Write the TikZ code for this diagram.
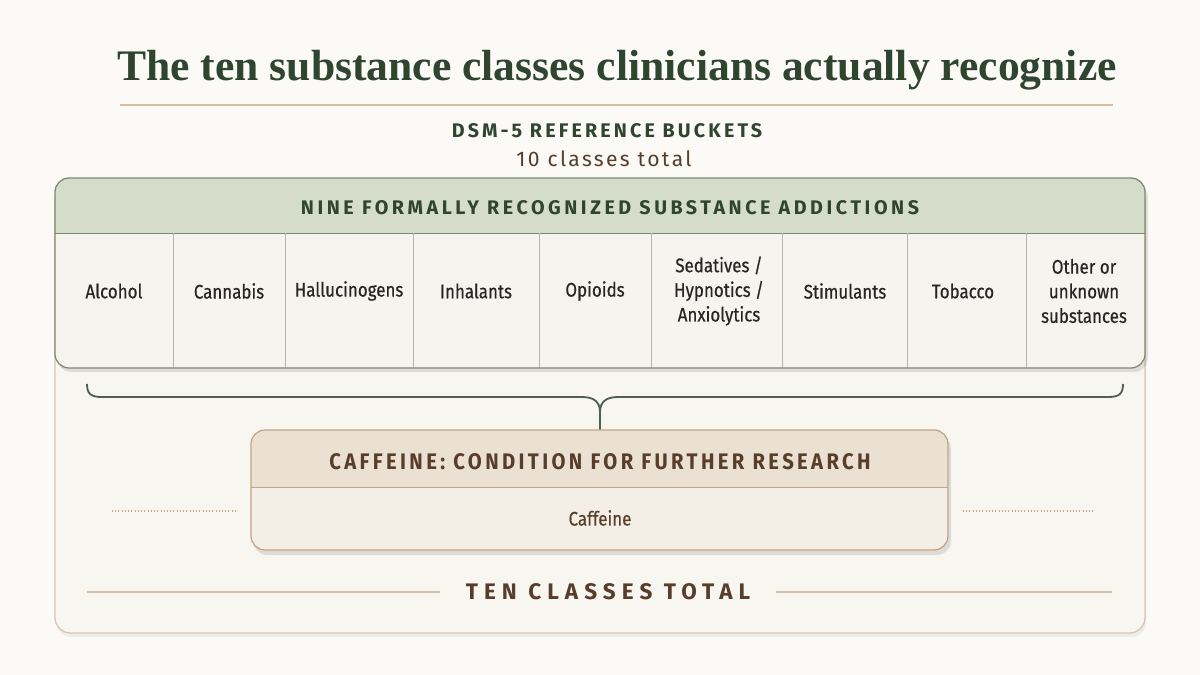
\documentclass[tikz,border=0pt]{standalone}
\usepackage{fontspec}
\setmainfont{Liberation Serif}
\newfontfamily\capsfont{Fira Sans}
\newfontfamily\narrowcaps[FakeStretch=0.9]{Fira Sans}
\newfontfamily\cellfont[FakeStretch=0.86, FakeBold=0.5]{Fira Sans}
\usetikzlibrary{shadows}

\definecolor{paper}{HTML}{FBFAF7}
\definecolor{panelfill}{HTML}{F8F6F1}
\definecolor{paneledge}{HTML}{D8C6AD}
\definecolor{inkgreen}{HTML}{2F4530}
\definecolor{sage}{HTML}{D5DCCA}
\definecolor{sageedge}{HTML}{7D8A72}
\definecolor{cellfill}{HTML}{F5F4EF}
\definecolor{celledge}{HTML}{B3B8A8}
\definecolor{inkbrown}{HTML}{583D2A}
\definecolor{tan}{HTML}{EBE1D3}
\definecolor{tanbody}{HTML}{F3EEE6}
\definecolor{tanedge}{HTML}{C3A484}
\definecolor{rulecol}{HTML}{D3BFA5}

\newcommand{\spacedcaps}[2]{\capsfont\bfseries\addfontfeature{LetterSpace=#2}\fontsize{#1}{#1}\selectfont}

\begin{document}
\begin{tikzpicture}[x=0.025cm, y=-0.025cm,
    heading/.style={font=\bfseries\fontsize{31}{34}\selectfont, text=inkgreen},
    cell/.style={font=\cellfont\fontsize{14}{17.5}\selectfont, text=black!85, align=center},
    rule/.style={rulecol, line width=0.8pt}]

    % Background
    \fill[paper] (0,0) rectangle (1200,675);
    \useasboundingbox (0,0) rectangle (1200,675);

    % Title
    \node[heading] (title) at (617,70) {The ten substance classes clinicians actually recognize};
    \draw[rule] (120,105) -- (1113,105);
    \node[font=\spacedcaps{14}{16}, text=inkgreen] (bucket) at (607,131) {DSM-5 REFERENCE BUCKETS};
    \node[font=\capsfont\addfontfeature{LetterSpace=11}\fontsize{15}{17}\selectfont, text=inkbrown] (count) at (604,159) {10 classes total};

    % Outer panel
    \draw[paneledge, fill=panelfill, line width=0.9pt, rounded corners=11pt,
        drop shadow={opacity=0.10, shadow xshift=1pt, shadow yshift=-3pt}]
        (55,185) rectangle (1145,633);

    % Nine recognized classes
    \fill[black, opacity=0.10, rounded corners=10pt] (57,183) rectangle (1148,372);
    \begin{scope}
        \clip[rounded corners=10pt] (55,178) rectangle (1145,368);
        \fill[cellfill] (55,178) rectangle (1145,368);
        \fill[sage] (55,178) rectangle (1145,233);
    \end{scope}
    \draw[sageedge] (55,233) -- (1145,233);
    \node[font=\spacedcaps{14}{18}, text=inkgreen] (nine) at (610,208)
        {NINE FORMALLY RECOGNIZED SUBSTANCE ADDICTIONS};
    \foreach \x in {173,285,413,539,651,782,907,1026} {
        \draw[celledge] (\x,233) -- (\x,368);
    }
    \foreach \x/\name/\txt in {114/alc/Alcohol, 229/can/Cannabis, 349/hal/Hallucinogens,
        476/inh/Inhalants, 595/opi/Opioids, 719/sed/{Sedatives /\\Hypnotics /\\Anxiolytics},
        845/sti/Stimulants, 963/tob/Tobacco, 1084/oth/{Other or\\unknown\\substances}} {
        \node[cell] (\name) at (\x,291) {\txt};
    }
    \draw[sageedge, line width=0.9pt, rounded corners=10pt] (55,178) rectangle (1145,368);

    % Brace
    \coordinate (caftop) at (600,430);
    \draw[inkgreen!85, line width=1.3pt]
        (87,384) .. controls (87,394) and (91,397) .. (102,397) -- (582,397)
        .. controls (594,397) and (600,402) .. (600,412)
        .. controls (600,402) and (606,397) .. (618,397) -- (1108,397)
        .. controls (1119,397) and (1123,394) .. (1123,384);
    \draw[inkgreen!85, line width=1.3pt] (600,411) -- (caftop);

    % Caffeine box
    \fill[black, opacity=0.10, rounded corners=10pt] (253,435) rectangle (951,555);
    \begin{scope}
        \clip[rounded corners=10pt] (251,430) rectangle (948,550);
        \fill[tanbody] (251,430) rectangle (948,550);
        \fill[tan] (251,430) rectangle (948,487);
    \end{scope}
    \draw[tanedge] (251,487) -- (948,487);
    \draw[tanedge, line width=0.9pt, rounded corners=10pt] (251,430) rectangle (948,550);
    \node[font=\narrowcaps\bfseries\addfontfeature{LetterSpace=15}\fontsize{16}{16}\selectfont, text=inkbrown] (cafhead) at (600,462)
        {CAFFEINE: CONDITION FOR FURTHER RESEARCH};
    \node[cell, text=inkbrown] (caffeine) at (600,518) {Caffeine};

    % Dotted leaders
    \draw[tanedge, line width=0.8pt, dash pattern=on 0.7pt off 1.6pt] (112,511) -- (237,511);
    \draw[tanedge, line width=0.8pt, dash pattern=on 0.7pt off 1.6pt] (963,511) -- (1093,511);

    % Total
    \node[font=\spacedcaps{16}{27}, text=inkbrown, inner xsep=18pt] (ten) at (608,592)
        {TEN CLASSES TOTAL};
    \draw[rule] (87,592) -- (ten);
    \draw[rule] (ten) -- (1112,592);
\end{tikzpicture}
\end{document}
